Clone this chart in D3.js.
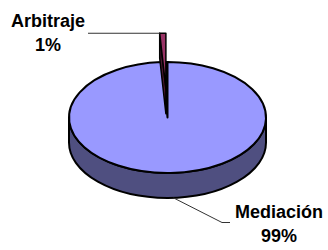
<!DOCTYPE html>
<html>
<head>
<meta charset="utf-8">
<script src="https://cdn.jsdelivr.net/npm/d3@7"></script>
<style>
  body { margin: 0; background: #fff; }
  text { font-family: "Liberation Sans", Arial, sans-serif; font-weight: bold; font-size: 18px; fill: #000; }
</style>
</head>
<body>
<div id="chart"></div>
<script>
var width = 328,
	height = 250;

// data
var categories = ["Mediación", "Arbitraje"];
var values = [99, 1];
var labels = ["99%", "1%"];
var explode = [0, 0.52];
var topColors = ["#9999FF", "#993366"];
var sideColors = ["#4F4F80", "#4A1830"];

var cx = 167.5, cy = 117.5, rx = 98.5, ry = 55.5, depth = 25;

var svg = d3.select("#chart").append("svg")
	.attr("width", width)
	.attr("height", height);

var pie = d3.pie().sort(null).value(function(d) { return d; });
var arcs = pie(values);
// Mediación first, so it starts at 12 o'clock and Arbitraje sits just left of top

function pt(a, dx, dy) {
	return [cx + dx + rx * Math.sin(a), cy + dy - ry * Math.cos(a)];
}

function offset(d, i) {
	var mid = (d.startAngle + d.endAngle) / 2;
	return [explode[i] * rx * Math.sin(mid), -explode[i] * ry * Math.cos(mid)];
}

function topPath(d, i) {
	var o = offset(d, i);
	var p0 = pt(d.startAngle, o[0], o[1]), p1 = pt(d.endAngle, o[0], o[1]);
	var large = d.endAngle - d.startAngle > Math.PI ? 1 : 0;
	return "M" + (cx + o[0]) + "," + (cy + o[1]) + "L" + p0 + "A" + rx + "," + ry + " 0 " + large + " 1 " + p1 + "Z";
}

function outerSide(d, i) {
	var o = offset(d, i);
	var s = Math.max(d.startAngle, Math.PI / 2), e = Math.min(d.endAngle, Math.PI * 1.5);
	if (e <= s) return null;
	var p0 = pt(s, o[0], o[1]), p1 = pt(e, o[0], o[1]);
	var q0 = pt(s, o[0], o[1] + depth), q1 = pt(e, o[0], o[1] + depth);
	return "M" + p0 + "A" + rx + "," + ry + " 0 0 1 " + p1 + "L" + q1 +
		"A" + rx + "," + ry + " 0 0 0 " + q0 + "Z";
}

function wall(d, i, a) {
	var o = offset(d, i);
	var c = [cx + o[0], cy + o[1]], p = pt(a, o[0], o[1]);
	return "M" + c + "L" + p + "L" + [p[0], p[1] + depth] + "L" + [c[0], c[1] + depth] + "Z";
}

// dark hole left in the big slice
var big = arcs[0];
svg.append("path")
	.attr("d", "M" + cx + "," + cy + "L" + pt(big.endAngle, 0, 0) + "L" + pt(2 * Math.PI, 0, 0) + "Z")
	.attr("fill", "#111122")
	.attr("stroke", "#000")
	.attr("stroke-width", 2);

svg.selectAll(".side")
	.data(arcs)
	.enter().append("path")
	.attr("class", "side")
	.attr("d", function(d, i) { return outerSide(d, i); })
	.attr("fill", function(d, i) { return sideColors[i]; })
	.attr("stroke", "#000")
	.attr("stroke-width", 2)
	.attr("stroke-linejoin", "round");

svg.append("path")
	.attr("d", topPath(big, 0))
	.attr("fill", topColors[0])
	.attr("stroke", "#000")
	.attr("stroke-width", 2)
	.attr("stroke-linejoin", "round");

// exploded small slice
var small = arcs[1];
svg.append("path")
	.attr("d", wall(small, 1, small.startAngle))
	.attr("fill", sideColors[1])
	.attr("stroke", "#000")
	.attr("stroke-width", 1.5)
	.attr("stroke-linejoin", "round");
svg.append("path")
	.attr("d", topPath(small, 1))
	.attr("fill", topColors[1])
	.attr("stroke", "#000")
	.attr("stroke-width", 1.5)
	.attr("stroke-linejoin", "round");

// leader lines
var so = offset(small, 1);
var sp = pt(small.startAngle, so[0], so[1]);
svg.append("path")
	.attr("d", "M88," + sp[1] + "L" + sp)
	.attr("fill", "none")
	.attr("stroke", "#333")
	.attr("stroke-width", 1);

var mp = pt((big.startAngle + big.endAngle) / 2 - 0.03, 0, depth);
svg.append("path")
	.attr("d", "M" + mp + "L222,222.5L230,222.5")
	.attr("fill", "none")
	.attr("stroke", "#333")
	.attr("stroke-width", 1);

// labels
var labelPos = [[279, 218], [48, 27]];
var lab = svg.selectAll(".lab")
	.data(categories)
	.enter().append("text")
	.attr("class", "lab")
	.attr("text-anchor", "middle")
	.attr("x", function(d, i) { return labelPos[i][0]; })
	.attr("y", function(d, i) { return labelPos[i][1]; });
lab.append("tspan").text(function(d) { return d; });
lab.append("tspan")
	.attr("x", function(d, i) { return labelPos[i][0]; })
	.attr("dy", 23.5)
	.text(function(d, i) { return labels[i]; });
</script>
</body>
</html>
